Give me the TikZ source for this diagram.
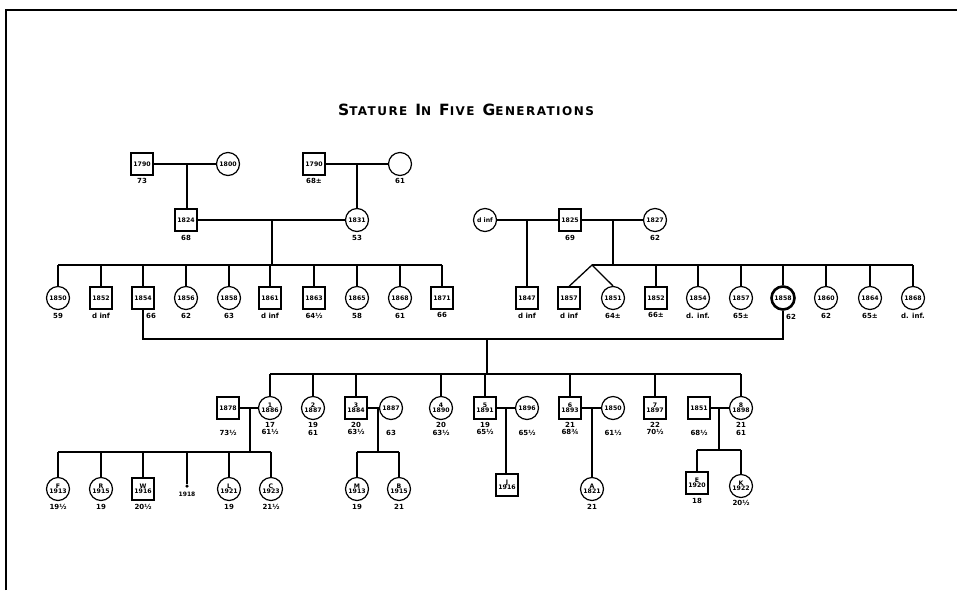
\documentclass[tikz,border=0pt]{standalone}
\usepackage{fontspec}
\setmainfont{DejaVu Sans}
\newfontfamily\titlefont[LetterSpace=12]{DejaVu Sans}
\newcommand\yrfont{\fontsize{6.2}{6}\selectfont\bfseries}
\newcommand\lbfont{\fontsize{7}{7.5}\selectfont\bfseries}
\newcommand\tsc[2]{{\fontsize{15.5}{15}\selectfont #1}{\fontsize{12}{12}\selectfont #2}}
\tikzset{
  sq/.style={draw, line width=1.2pt, minimum size=22pt, inner sep=0pt, font=\yrfont, align=center},
  ci/.style={draw, circle, line width=1.2pt, minimum size=23pt, inner sep=0pt, font=\yrfont, align=center},
  thick node/.style={line width=2.6pt},
  lab/.style={font=\lbfont, inner sep=0pt, align=center},
  conn/.style={line width=1.3pt},
}
\begin{document}
\begin{tikzpicture}[x=1pt,y=-1pt]
\useasboundingbox (0,0) rectangle (957,590);
% frame
\draw[line width=1.5pt] (6,590) coordinate (fA) -- (6,10) coordinate (fB) -- (957,10) coordinate (fC);
% title
\node (title) at (466,110) {\titlefont\bfseries \tsc{S}{TATURE}\hspace{8pt}\tsc{I}{N}\hspace{8pt}\tsc{F}{IVE}\hspace{8pt}\tsc{G}{ENERATIONS}};

% ---------- generation 1 ----------
\node[sq] (a1790) at (142,164) {1790};
\node[ci] (a1800) at (228,164) {1800};
\node[sq] (b1790) at (314,164) {1790};
\node[ci] (b61) at (400,164) {};
\node[lab] (la1790) at (142,181) {73};
\node[lab] (lb1790) at (314,181) {68±};
\node[lab] (lb61) at (400,181) {61};

% ---------- generation 2 parents ----------
\node[sq] (p1824) at (186,220) {1824};
\node[ci] (p1831) at (357,220) {1831};
\node[ci] (qinf) at (485,220) {d inf};
\node[sq] (q1825) at (570,220) {1825};
\node[ci] (q1827) at (655,220) {1827};
\node[lab] (lp1824) at (186,238) {68};
\node[lab] (lp1831) at (357,238) {53};
\node[lab] (lq1825) at (570,238) {69};
\node[lab] (lq1827) at (655,238) {62};

\coordinate (m1) at (187,164);
\coordinate (m2) at (357,164);
\coordinate (m3) at (272,220);
\coordinate (m4) at (527,220);
\coordinate (m5) at (613,220);
\coordinate (bar2) at (0,265);
\coordinate (bar3) at (0,265);

\draw[conn] (a1790) -- (a1800);
\draw[conn] (b1790) -- (b61);
\draw[conn] (m1) -- (m1 |- p1824.north);
\draw[conn] (m2) -- (p1831.north);
\draw[conn] (p1824) -- (p1831);
\draw[conn] (qinf) -- (q1825);
\draw[conn] (q1825) -- (q1827);

% ---------- generation 3 ----------
\node[ci] (l1850) at (58,298) {1850};
\node[sq] (l1852) at (101,298) {1852};
\node[sq,thick node] (l1854) at (143,298) {1854};
\node[ci] (l1856) at (186,298) {1856};
\node[ci] (l1858) at (229,298) {1858};
\node[sq] (l1861) at (270,298) {1861};
\node[sq] (l1863) at (314,298) {1863};
\node[ci] (l1865) at (357,298) {1865};
\node[ci] (l1868) at (400,298) {1868};
\node[sq] (l1871) at (442,298) {1871};
\foreach \n/\t in {l1850/59, l1852/d inf, l1856/62, l1858/63, l1861/d inf, l1863/64½, l1865/58, l1868/61, l1871/66}
  \node[lab,anchor=north] at ([yshift=-3pt]\n.south) {\t};
\node[lab,anchor=north] (l66) at ([xshift=8pt,yshift=-3pt]l1854.south) {66};

\node[sq] (r1847) at (527,298) {1847};
\node[sq] (r1857) at (569,298) {1857};
\node[ci] (r1851) at (613,298) {1851};
\node[sq] (r1852) at (656,298) {1852};
\node[ci] (r1854) at (698,298) {1854};
\node[ci] (r1857b) at (741,298) {1857};
\node[ci,thick node] (r1858) at (783,298) {1858};
\node[ci] (r1860) at (826,298) {1860};
\node[ci] (r1864) at (870,298) {1864};
\node[ci] (r1868) at (913,298) {1868};
\foreach \n/\t in {r1847/d inf, r1857/d inf, r1851/64±, r1852/66±, r1854/d. inf., r1857b/65±, r1860/62, r1864/65±, r1868/d. inf.}
  \node[lab,anchor=north] at ([yshift=-3pt]\n.south) {\t};
\node[lab,anchor=north] (r62) at ([xshift=8pt,yshift=-3pt]r1858.south) {62};

% sibling bars gen 3
\draw[conn] (m3) -- (m3 |- bar2);
\draw[conn] (l1850.north |- bar2) -- (l1871.north |- bar2);
\foreach \n in {l1850,l1852,l1854,l1856,l1858,l1861,l1863,l1865,l1868,l1871}
  \draw[conn] (\n.north) -- (\n.north |- bar2);
\draw[conn] (m4) -- (r1847.north);
\draw[conn] (m5) -- (m5 |- bar3);
\coordinate (twin) at (592,265);
\draw[conn] (twin) -- (r1868.north |- bar3);
\draw[conn] (r1857.north) -- (twin) -- (r1851.north);
\foreach \n in {r1852,r1854,r1857b,r1858,r1860,r1864,r1868}
  \draw[conn] (\n.north) -- (\n.north |- bar3);

% marriage 1854 - 1858
\coordinate (mm) at (487,339);
\coordinate (bar4) at (0,374);
\draw[conn] (l1854.south) -- (l1854.south |- mm) -- (r1858.south |- mm) -- (r1858.south);
\draw[conn] (mm) -- (mm |- bar4);

% ---------- generation 4 ----------
\node[sq] (s1878) at (228,408) {1878};
\node[ci] (g1) at (270,408) {1\\[-1pt]1886};
\node[ci] (g2) at (313,408) {2\\[-1pt]1887};
\node[sq] (g3) at (356,408) {3\\[-1pt]1884};
\node[ci] (w1887) at (391,408) {1887};
\node[ci] (g4) at (441,408) {4\\[-1pt]1890};
\node[sq] (g5) at (485,408) {5\\[-1pt]1891};
\node[ci] (w1896) at (527,408) {1896};
\node[sq] (g6) at (570,408) {6\\[-1pt]1893};
\node[ci] (w1850) at (613,408) {1850};
\node[sq] (g7) at (655,408) {7\\[-1pt]1897};
\node[sq] (h1851) at (699,408) {1851};
\node[ci] (g8) at (741,408) {8\\[-1pt]1898};
\foreach \n/\a/\b in {g1/17/61½, g2/19/61, g3/20/63½, g4/20/63½, g5/19/65½, g6/21/68¾, g7/22/70½, g8/21/61}
  \node[lab,anchor=north] at ([yshift=-2pt]\n.south) {\a\\\b};
\foreach \n/\t in {s1878/73½, w1887/63, w1896/65½, w1850/61½, h1851/68½}
  \node[lab,anchor=north] at ([yshift=-10pt]\n.south) {\t};

\draw[conn] (g1.north |- bar4) -- (g8.north |- bar4);
\foreach \n in {g1,g2,g3,g4,g5,g6,g7,g8}
  \draw[conn] (\n.north) -- (\n.north |- bar4);

\draw[conn] (s1878) -- (g1);
\draw[conn] (g3) -- (w1887);
\draw[conn] (g5) -- (w1896);
\draw[conn] (g6) -- (w1850);
\draw[conn] (h1851) -- (g8);
\coordinate (n1) at (250,408);
\coordinate (n2) at (378,408);
\coordinate (n3) at (506,408);
\coordinate (n4) at (592,408);
\coordinate (n5) at (719,408);
\coordinate (bar5) at (0,452);

% ---------- generation 5 ----------
\node[ci] (f1) at (58,489) {F\\[-1pt]1913};
\node[ci] (f2) at (101,489) {R\\[-1pt]1915};
\node[sq] (f3) at (143,489) {W\\[-1pt]1916};
\node[circle,fill,inner sep=0pt,minimum size=3.5pt] (f4) at (187,486) {};
\node[lab] (lf4) at (187,494) {\fontsize{6}{6}\selectfont 1918};
\node[ci] (f5) at (229,489) {L\\[-1pt]1921};
\node[ci] (f6) at (271,489) {C\\[-1pt]1923};
\foreach \n/\t in {f1/19½, f2/19, f3/20½, f5/19, f6/21½}
  \node[lab,anchor=north] at ([yshift=-3pt]\n.south) {\t};
\draw[conn] (f1.north |- bar5) -- (f6.north |- bar5);
\foreach \n in {f1,f2,f3,f5,f6}
  \draw[conn] (\n.north) -- (\n.north |- bar5);
\draw[conn] (f4) -- (f4 |- bar5);
\draw[conn] (n1) -- (n1 |- bar5);

\node[ci] (k1) at (357,489) {M\\[-1pt]1913};
\node[ci] (k2) at (399,489) {B\\[-1pt]1915};
\foreach \n/\t in {k1/19, k2/21}
  \node[lab,anchor=north] at ([yshift=-3pt]\n.south) {\t};
\draw[conn] (k1.north |- bar5) -- (k2.north |- bar5);
\foreach \n in {k1,k2}
  \draw[conn] (\n.north) -- (\n.north |- bar5);
\draw[conn] (n2) -- (n2 |- bar5);

\node[sq] (j1) at (507,485) {J\\[-1pt]1916};
\draw[conn] (n3) -- (n3 |- j1.north);

\node[ci] (a1) at (592,489) {A\\[-1pt]1821};
\node[lab,anchor=north] at ([yshift=-3pt]a1.south) {21};
\draw[conn] (n4) -- (a1.north);

\node[sq] (e1) at (697,483) {E\\[-1pt]1920};
\node[ci] (e2) at (741,486) {K\\[-1pt]1922};
\node[lab,anchor=north] at ([yshift=-3pt]e1.south) {18};
\node[lab,anchor=north] at ([yshift=-2pt]e2.south) {20½};
\coordinate (bar6) at (0,450);
\draw[conn] (e1.north |- bar6) -- (e2.north |- bar6);
\foreach \n in {e1,e2}
  \draw[conn] (\n.north) -- (\n.north |- bar6);
\draw[conn] (n5) -- (n5 |- bar6);
\end{tikzpicture}
\end{document}
